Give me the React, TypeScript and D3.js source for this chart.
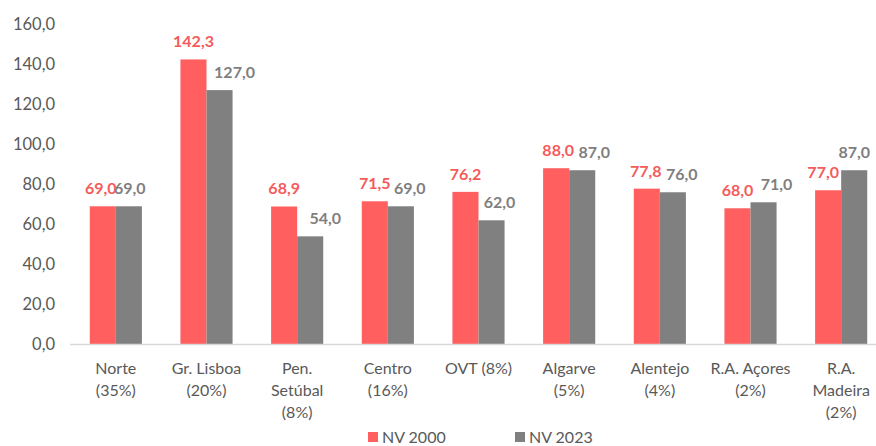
import { useRef, useEffect } from 'react';
import * as d3 from 'd3';

const regions = [
  ['Norte', '(35%)'],
  ['Gr. Lisboa', '(20%)'],
  ['Pen.', 'Setúbal', '(8%)'],
  ['Centro', '(16%)'],
  ['OVT (8%)'],
  ['Algarve', '(5%)'],
  ['Alentejo', '(4%)'],
  ['R.A. Açores', '(2%)'],
  ['R.A.', 'Madeira', '(2%)'],
];
const nv2000 = [69.0, 142.3, 68.9, 71.5, 76.2, 88.0, 77.8, 68.0, 77.0];
const nv2023 = [69.0, 127.0, 54.0, 69.0, 62.0, 87.0, 76.0, 71.0, 87.0];
const yTicks = [0, 20, 40, 60, 80, 100, 120, 140, 160];
const seriesNames = ['NV 2000', 'NV 2023'];

const RED = '#FF5F5F';
const GRAY = '#808080';

export default function App() {
  const svgRef = useRef<SVGSVGElement>(null);

  useEffect(() => {
    if (!svgRef.current) return;
    const svg = d3.select(svgRef.current);
    svg.selectAll('*').remove();
    const font = 'Lato, "Open Sans", sans-serif';

    const keys = regions.map((r) => r.join(' '));
    const x = d3.scaleBand().domain(keys).range([70.5, 886.5]).paddingInner(0.425).paddingOuter(0.2125);
    const xs = d3.scaleBand().domain(['a', 'b']).range([0, x.bandwidth()]);
    const y = d3.scaleLinear().domain([0, 160]).range([344.5, 24]);

    // y tick labels
    svg
      .append('g')
      .selectAll('text')
      .data(yTicks)
      .enter()
      .append('text')
      .attr('x', 55)
      .attr('y', (d) => y(d))
      .attr('dy', '0.35em')
      .attr('text-anchor', 'end')
      .attr('font-family', font)
      .attr('font-size', 16.5)
      .attr('fill', '#595959')
      .text((d) => d3.format('.1f')(d).replace('.', ','));

    // bars
    const groups = svg
      .append('g')
      .selectAll('g')
      .data(keys)
      .enter()
      .append('g')
      .attr('transform', (d) => `translate(${x(d)},0)`);

    groups
      .append('rect')
      .attr('x', xs('a')!)
      .attr('width', xs.bandwidth())
      .attr('y', (_, i) => y(nv2000[i]))
      .attr('height', (_, i) => y(0) - y(nv2000[i]))
      .attr('fill', RED);

    groups
      .append('rect')
      .attr('x', xs('b')!)
      .attr('width', xs.bandwidth())
      .attr('y', (_, i) => y(nv2023[i]))
      .attr('height', (_, i) => y(0) - y(nv2023[i]))
      .attr('fill', GRAY);

    // axis line
    svg
      .append('line')
      .attr('x1', 70)
      .attr('x2', 876)
      .attr('y1', y(0))
      .attr('y2', y(0))
      .attr('stroke', '#D9D9D9')
      .attr('stroke-width', 1.5);

    const fmt = (v: number) => d3.format('.1f')(v).replace('.', ',');
    // label nudges (manual placement in source chart)
    const redNudge = [-2, 0, 0, 0, 0, 2, -1, 0, -5];
    const grayNudge = [1, 15, 15, 9, 8, 12, 9, 13, 0];

    groups
      .append('text')
      .attr('x', (_, i) => xs('a')! + xs.bandwidth() / 2 + redNudge[i])
      .attr('y', (_, i) => y(nv2000[i]) - 12)
      .attr('text-anchor', 'middle')
      .attr('font-family', font)
      .attr('font-weight', 'bold')
      .attr('font-size', 16)
      .attr('fill', '#F45B5B')
      .text((_, i) => fmt(nv2000[i]));

    groups
      .append('text')
      .attr('x', (_, i) => xs('b')! + xs.bandwidth() / 2 + grayNudge[i])
      .attr('y', (_, i) => y(nv2023[i]) - 12)
      .attr('text-anchor', 'middle')
      .attr('font-family', font)
      .attr('font-weight', 'bold')
      .attr('font-size', 16)
      .attr('fill', '#7F7F7F')
      .text((_, i) => fmt(nv2023[i]));

    // category labels
    groups.each(function (_, i) {
      const t = d3
        .select(this)
        .append('text')
        .attr('text-anchor', 'middle')
        .attr('font-family', font)
        .attr('font-size', 16)
        .attr('fill', '#595959');
      regions[i].forEach((line, j) => {
        t.append('tspan')
          .attr('x', x.bandwidth() / 2)
          .attr('y', 374 + j * 22)
          .text(line);
      });
    });

    // legend
    const legendX = [368, 515];
    const legend = svg
      .append('g')
      .selectAll('g')
      .data(seriesNames)
      .enter()
      .append('g')
      .attr('transform', (_, i) => `translate(${legendX[i]},0)`);
    legend
      .append('rect')
      .attr('x', 0)
      .attr('y', 432)
      .attr('width', 10)
      .attr('height', 10)
      .attr('fill', (_, i) => (i === 0 ? RED : GRAY));
    legend
      .append('text')
      .attr('x', 14)
      .attr('y', 443)
      .attr('font-family', font)
      .attr('font-size', 16)
      .attr('fill', '#595959')
      .text((d) => d);
  }, []);

  return (
    <svg
      ref={svgRef}
      width={876}
      height={446}
      style={{ position: 'absolute', left: 0, top: 0, background: '#fff' }}
    />
  );
}
